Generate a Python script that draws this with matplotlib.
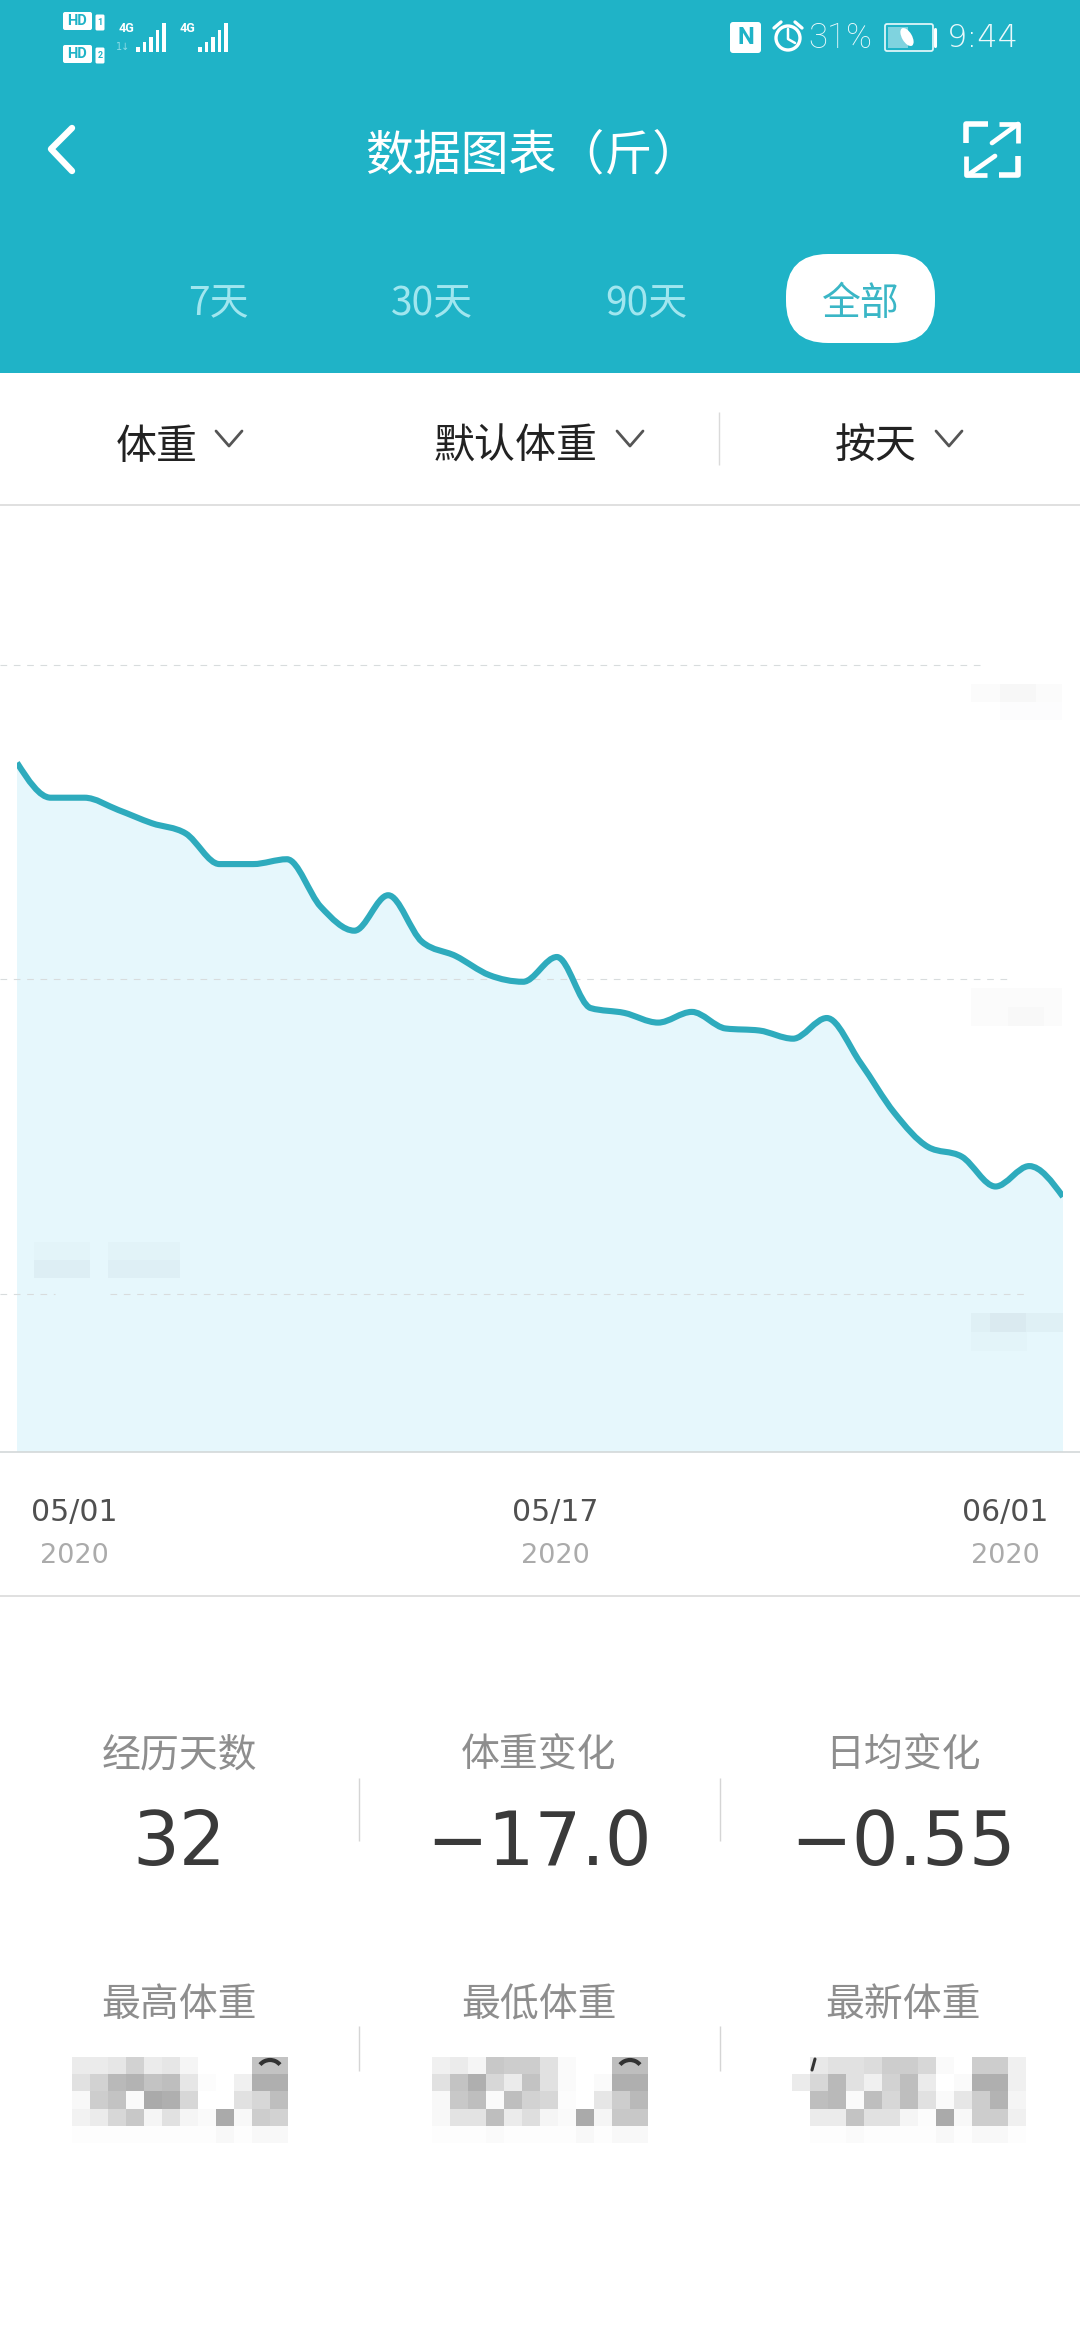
import numpy as np
import matplotlib
matplotlib.use('Agg')
import matplotlib.pyplot as plt
from matplotlib.patches import Rectangle, FancyBboxPatch, PathPatch, Circle, Arc, Ellipse
from matplotlib.path import Path

plt.rcParams['font.family'] = ['Noto Sans CJK SC', 'DejaVu Sans']

# Data: change in weight (jin) from the first day, the real numbers are hidden in the screenshot
days = list(range(1, 33))
weight_change = [0.0, -1.37, -1.37, -1.85, -2.37, -2.77, -3.97, -3.97,
                 -3.78, -5.64, -6.58, -5.19, -7.01, -7.57, -8.32, -8.58,
                 -7.61, -9.61, -9.80, -10.18, -9.76, -10.41, -10.49, -10.81,
                 -10.0, -11.76, -13.71, -15.05, -15.43, -16.6, -15.8, -17.0]
grid_values = [3.83, -8.48, -20.8]

tabs = ['7天', '30天', '90天']
dropdowns = ['体重', '默认体重', '按天']
date_labels = ['05/01', '05/17', '06/01']
year_labels = ['2020', '2020', '2020']
stat_titles = ['经历天数', '体重变化', '日均变化']
stat_values = ['32', '−17.0', '−0.55']
weight_titles = ['最高体重', '最低体重', '最新体重']

# Pixelated (censored) weights at the bottom, gray levels
mosaic_high = [[235, 235, 230, 210, 235, 230, 245, 255, 255, 255, 195, 195],
               [225, 210, 185, 180, 195, 190, 230, 252, 255, 240, 175, 175],
               [248, 205, 195, 250, 170, 175, 215, 255, 255, 225, 215, 190],
               [242, 235, 215, 200, 245, 225, 245, 250, 170, 248, 205, 210],
               [253, 253, 253, 253, 253, 253, 253, 253, 248, 253, 248, 248]]
mosaic_low = [[240, 235, 245, 200, 205, 205, 225, 250, 255, 255, 190, 190],
              [225, 195, 175, 215, 235, 195, 225, 250, 255, 250, 175, 175],
              [248, 200, 190, 250, 190, 210, 215, 252, 255, 230, 205, 185],
              [248, 228, 228, 190, 235, 222, 245, 250, 170, 245, 200, 200],
              [253, 253, 253, 250, 253, 253, 253, 253, 248, 253, 248, 248]]
mosaic_new = [[255, 232, 225, 225, 220, 205, 205, 215, 250, 255, 205, 205, 240],
              [235, 215, 185, 225, 240, 210, 190, 235, 255, 250, 175, 175, 240],
              [255, 190, 185, 250, 190, 215, 190, 225, 250, 230, 205, 180, 245],
              [255, 235, 235, 195, 225, 225, 245, 252, 170, 248, 205, 205, 240],
              [255, 253, 253, 250, 253, 253, 253, 253, 248, 253, 248, 248, 253]]

TEAL = '#1FB3C7'
LINE = '#2EABBD'
FILL = '#E6F7FC'

fig = plt.figure(figsize=(10.8, 23.4), dpi=100, facecolor='white')

# Chart part, in data coordinates
ax = fig.add_axes([17 / 1080, 1 - 1452 / 2340, 1046 / 1080, (1452 - 510) / 2340])
ax.set_xlim(days[0], days[-1])
ax.set_ylim(-27.0, 9.9)
ax.axis('off')


def smooth_path(xs, ys):
    # monotone cubic, flat at the local highs and lows and on equal days
    xs = np.array(xs, dtype=float)
    ys = np.array(ys, dtype=float)
    h = np.diff(xs)
    s = np.diff(ys) / h
    t = np.zeros(len(xs))
    for i in range(1, len(xs) - 1):
        p = (s[i - 1] * h[i] + s[i] * h[i - 1]) / (h[i - 1] + h[i])
        t[i] = (np.sign(s[i - 1]) + np.sign(s[i])) * min(abs(s[i - 1]), abs(s[i]), 0.5 * abs(p))
    t[0] = (3 * s[0] - t[1]) / 2
    t[-1] = (3 * s[-1] - t[-2]) / 2
    verts = [(xs[0], ys[0])]
    codes = [Path.MOVETO]
    for i in range(1, len(xs)):
        d = h[i - 1] / 3
        verts += [(xs[i - 1] + d, ys[i - 1] + d * t[i - 1]), (xs[i] - d, ys[i] - d * t[i]), (xs[i], ys[i])]
        codes += [Path.CURVE4] * 3
    return verts, codes


verts, codes = smooth_path(days, weight_change)
floor = ax.get_ylim()[0]
fill_verts = verts + [(days[-1], floor), (days[0], floor), (days[0], weight_change[0])]
fill_codes = codes + [Path.LINETO, Path.LINETO, Path.CLOSEPOLY]
ax.add_patch(PathPatch(Path(fill_verts, fill_codes), facecolor=FILL, edgecolor='none', zorder=1))

# Grid lines stop where the censored labels start
grid_spans = [[(0, 981)], [(0, 1012)], [(0, 55), (110, 1026)]]
for val, spans in zip(grid_values, grid_spans):
    for a, b in spans:
        ax.plot([(a - 17) / 1046, (b - 17) / 1046], [val, val], transform=ax.get_yaxis_transform(),
                color='#D8DCDD', lw=0.8, ls=(0, (6, 6)), clip_on=False, zorder=2)

ax.add_patch(PathPatch(Path(verts, codes), facecolor='none', edgecolor=LINE, lw=4.4, zorder=3,
                       capstyle='butt', joinstyle='round'))

# Everything else is drawn on an overlay in pixel coordinates
ui = fig.add_axes([0, 0, 1, 1], facecolor='none')
ui.axis('off')

ui.add_patch(Rectangle((0, 0), 1080, 373, facecolor=TEAL, edgecolor='none'))
ui.add_patch(FancyBboxPatch((786 + 42, 254 + 42), 149 - 84, 89 - 84, boxstyle='round,pad=42',
                            facecolor='white', edgecolor='none'))


def seg(xs, ys, color='white', lw=1.0, **kw):
    ui.plot(xs, ys, color=color, lw=lw, solid_capstyle=kw.pop('cap', 'round'), **kw)


def txt(x, y, s, size, color, **kw):
    kw.setdefault('ha', 'center')
    kw.setdefault('va', 'center')
    ui.text(x, y, s, fontsize=size, color=color, **kw)


# Status bar
for y0, num in [(12, '1'), (45, '2')]:
    ui.add_patch(FancyBboxPatch((65, y0 + 2), 25, 14, boxstyle='round,pad=2', facecolor='white', edgecolor='none'))
    txt(77.5, y0 + 9, 'HD', 10.5, TEAL, family='Roboto', fontweight='bold')
    ui.add_patch(FancyBboxPatch((97, y0 + 4), 6, 13, boxstyle='round,pad=1.5', facecolor='white', edgecolor='none'))
    txt(100, y0 + 10.5, num, 6.5, TEAL, family='Roboto', fontweight='bold')
for x4g, xbar in [(126, 136), (187, 198)]:
    txt(x4g, 29, '4G', 9, 'white', family='Roboto', fontweight='bold', stretch='condensed')
    for i, h in enumerate([5, 10, 15, 22, 29]):
        ui.add_patch(Rectangle((xbar + i * 6.5, 52 - h), 3.8, h, facecolor='white', edgecolor='none'))
txt(123, 47, '1↓', 7, '#8FDCE6', family='DejaVu Sans')

ui.add_patch(FancyBboxPatch((733, 25), 25, 25, boxstyle='round,pad=3', facecolor='white', edgecolor='none'))
txt(745.5, 37.5, 'N', 17, TEAL, family='Roboto', fontweight='bold')
ui.add_patch(Circle((788, 38), 12, facecolor='none', edgecolor='white', lw=2.4))
seg([788, 788, 795], [29, 39, 43], lw=1.8)
seg([774, 781], [28, 22], lw=2.4)
seg([795, 802], [22, 28], lw=2.4)
txt(840, 38, '31%', 25, '#EAF9FB', family='Roboto', fontweight='light')
ui.add_patch(FancyBboxPatch((887, 26), 44, 23, boxstyle='round,pad=2', facecolor='none', edgecolor='#DDF5F8', lw=1.3))
ui.add_patch(Rectangle((888, 27), 20, 21, facecolor='#7FD3DF', edgecolor='none'))
ui.add_patch(Ellipse((907, 37), 10, 20, angle=-30, facecolor='white', edgecolor='none'))
seg([935, 935], [29, 46], lw=2.2)
txt(983, 38, '9:44', 23, '#EAF9FB', family='DejaVu Sans', fontweight='light')

# Title bar
seg([72, 51, 72], [128, 149, 171], lw=4.6)
txt(533, 156, '数据图表（斤）', 34.5, 'white', fontweight='light')
seg([966, 966, 988], [143, 124, 124], lw=4, cap='butt')
seg([1018, 1018, 999], [156, 175, 175], lw=4, cap='butt')
seg([992, 1018], [143, 124], lw=3.4)
seg([999, 1018, 1018], [124, 124, 143], lw=3.4, cap='butt')
seg([995, 968], [156, 175], lw=3.4)
seg([966, 966, 987], [156, 175, 175], lw=3.4, cap='butt')

# Range tabs
for x, label in zip([218, 432, 646], tabs):
    txt(x, 304, label, 28, '#A0E6EF', fontweight='light')
txt(861, 304, '全部', 28, '#3AB6C6', fontweight='light')

# Dropdown row
for x, ax_x, label in zip([157, 516, 876], [229, 630, 949], dropdowns):
    txt(x, 447, label, 29.5, '#222222', fontweight='light')
    seg([ax_x - 13, ax_x, ax_x + 13], [431, 446, 431], color='#555555', lw=2)
seg([719, 719], [412, 465], color='#DADADA', lw=1, cap='butt')
seg([0, 1080], [505, 505], color='#DDDDDD', lw=1.3, cap='butt')

# Date labels under the chart
seg([0, 1080], [1452, 1452], color='#D3D8D9', lw=1.2, cap='butt')
for x, d, yr in zip([74, 555, 1005], date_labels, year_labels):
    txt(x, 1512, d, 21.5, '#505050', family='DejaVu Sans')
    txt(x, 1556, yr, 19.5, '#ABABAB', family='DejaVu Sans')
seg([0, 1080], [1596, 1596], color='#DADADA', lw=1.2, cap='butt')

# Censored axis labels (only a faint mosaic is left)
blur_cells = [(971, 684, 91, 18, 0.02), (1000, 684, 36, 18, 0.02), (1000, 702, 62, 18, 0.012),
              (971, 988, 91, 38, 0.018), (1008, 1007, 36, 19, 0.015),
              (34, 1242, 56, 18, 0.015), (34, 1260, 56, 18, 0.05), (108, 1242, 72, 18, 0.025), (108, 1260, 72, 18, 0.045),
              (971, 1313, 92, 19, 0.04), (990, 1313, 36, 19, 0.03), (971, 1332, 56, 19, 0.015)]
for x, y, w, h, a in blur_cells:
    ui.add_patch(Rectangle((x, y), w, h, facecolor='#405060', alpha=a, edgecolor='none'))

# Statistics
columns = [179, 539, 903]
for x, t, v in zip(columns, stat_titles, stat_values):
    txt(x, 1756, t, 28, '#8E8E8E', fontweight='light')
    txt(x, 1844, v, 53, '#3A3A3A', family='DejaVu Sans')
for x, t in zip(columns, weight_titles):
    txt(x, 2005, t, 28, '#8E8E8E', fontweight='light')
for x in [359, 720]:
    seg([x, x], [1778, 1841], color='#D5D5D5', lw=1, cap='butt')
    seg([x, x], [2026, 2071], color='#D5D5D5', lw=1, cap='butt')

for cells, x0 in [(mosaic_high, 72), (mosaic_low, 432), (mosaic_new, 792)]:
    arr = np.array(cells)
    ui.imshow(arr, extent=(x0, x0 + 18 * arr.shape[1], 2057 + 17.2 * arr.shape[0], 2057), cmap='gray',
              vmin=0, vmax=255, interpolation='nearest', aspect='auto', zorder=3)
# Bits of the digits that stick out of the mosaic
for x in [270, 630]:
    ui.add_patch(Arc((x, 2073), 26, 26, theta1=220, theta2=320, edgecolor='#333333', lw=3, zorder=4))
seg([812, 815], [2070, 2059], color='#333333', lw=2.2, zorder=4)

ui.set_xlim(0, 1080)
ui.set_ylim(2340, 0)

fig.savefig('out.png', dpi=100, facecolor='white')
